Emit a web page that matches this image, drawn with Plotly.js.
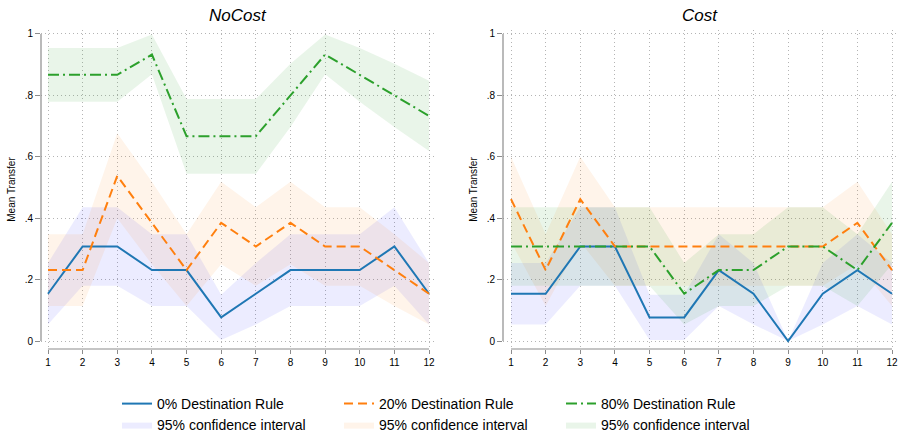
<!DOCTYPE html>
<html>
<head>
<meta charset="utf-8">
<script src="https://cdn.plot.ly/plotly-3.0.1.min.js"></script>
<style>html,body{margin:0;padding:0;background:#fff;}#chart{width:900px;height:434px;}</style>
</head>
<body>
<div id="chart"></div>
<script>
// ---- data ----
const periods = [1,2,3,4,5,6,7,8,9,10,11,12];
const panelTitles = ["NoCost", "Cost"];
const seriesNames = ["0% Destination Rule", "20% Destination Rule", "80% Destination Rule"];
const ciName = "95% confidence interval";
const yTickVals = [0, 0.2, 0.4, 0.6, 0.8, 1];
const yTickText = ["0", ".2", ".4", ".6", ".8", "1"];

// NoCost
const nc0    = [.154,.308,.308,.231,.231,.077,.154,.231,.231,.231,.308,.154];
const nc0Lo  = [.054,.180,.180,.114,.114,.003,.054,.114,.114,.114,.180,.054];
const nc0Hi  = [.254,.436,.436,.348,.348,.151,.254,.348,.348,.348,.436,.254];
const nc20   = [.231,.231,.538,.385,.231,.385,.308,.385,.308,.308,.231,.154];
const nc20Lo = [.114,.114,.400,.250,.114,.250,.180,.250,.180,.180,.114,.054];
const nc20Hi = [.348,.348,.677,.519,.348,.519,.436,.519,.436,.436,.348,.254];
const nc80   = [.867,.867,.867,.933,.667,.667,.667,.800,.933,.867,.800,.733];
const nc80Lo = [.779,.779,.779,.869,.545,.545,.545,.697,.869,.779,.697,.619];
const nc80Hi = [.954,.954,.954,.998,.788,.788,.788,.903,.998,.954,.903,.848];

// Cost
const c0    = [.154,.154,.308,.308,.077,.077,.231,.154,0,.154,.231,.154];
const c0Lo  = [.054,.054,.180,.180,.003,.003,.114,.054,0,.054,.114,.054];
const c0Hi  = [.254,.254,.436,.436,.151,.151,.348,.254,0,.254,.348,.254];
const c20   = [.462,.231,.462,.308,.308,.308,.308,.308,.308,.308,.385,.231];
const c20Lo = [.323,.114,.323,.180,.180,.180,.180,.180,.180,.180,.250,.114];
const c20Hi = [.600,.348,.600,.436,.436,.436,.436,.436,.436,.436,.519,.348];
const c80   = [.308,.308,.308,.308,.308,.154,.231,.231,.308,.308,.231,.385];
const c80Lo = [.180,.180,.180,.180,.180,.054,.114,.114,.180,.180,.114,.250];
const c80Hi = [.436,.436,.436,.436,.436,.254,.348,.348,.436,.436,.348,.519];

// ---- styles ----
const lineColors = ["#1f77b4", "#ff7f0e", "#2ca02c"];
const bandColors = ["rgba(0,0,255,0.075)", "rgba(255,127,14,0.085)", "rgba(44,160,44,0.10)"];
const dashes = ["solid", "9px,5px", "11px,4px,2px,4px"];
const FONT = "Liberation Sans, Arial, Helvetica, sans-serif";

const panels = [
  {xa: "x", ya: "y", means: [nc0, nc20, nc80], lo: [nc0Lo, nc20Lo, nc80Lo], hi: [nc0Hi, nc20Hi, nc80Hi]},
  {xa: "x2", ya: "y2", means: [c0, c20, c80], lo: [c0Lo, c20Lo, c80Lo], hi: [c0Hi, c20Hi, c80Hi]}
];

const traces = [];
panels.forEach((p, pi) => {
  for (let s = 0; s < 3; s++) {
    traces.push({
      type: "scatter", mode: "lines",
      x: periods.concat(periods.slice().reverse()),
      y: p.hi[s].concat(p.lo[s].slice().reverse()),
      fill: "toself", fillcolor: bandColors[s],
      line: {width: 0, color: bandColors[s]},
      name: ciName, legend: "legend2",
      showlegend: pi === 0, hoverinfo: "skip",
      xaxis: p.xa, yaxis: p.ya
    });
  }
});
panels.forEach((p, pi) => {
  for (let s = 0; s < 3; s++) {
    traces.push({
      type: "scatter", mode: "lines",
      x: periods, y: p.means[s],
      line: {color: lineColors[s], width: 2, dash: dashes[s]},
      name: seriesNames[s], legend: "legend",
      showlegend: pi === 0,
      xaxis: p.xa, yaxis: p.ya
    });
  }
});

const axisGrey = "#8c8c8c";
const gridStyle = {showgrid: true, gridcolor: "#b4b4b4", griddash: "1px,3px", gridwidth: 1};
function xAxis(domain, range, anchor) {
  return Object.assign({
    domain: domain, range: range, anchor: anchor, tickvals: periods, ticks: "outside", ticklen: 4,
    tickcolor: axisGrey, tickwidth: 1, showline: false, zeroline: false,
    tickfont: {size: 10, color: "#000", family: FONT}, fixedrange: true
  }, gridStyle);
}
function yAxis(anchor) {
  return Object.assign({
    domain: [0.19585, 0.93088], range: [-0.026, 1.013], anchor: anchor,
    tickvals: yTickVals, ticktext: yTickText, ticks: "outside", ticklen: 5,
    tickcolor: axisGrey, tickwidth: 1, showline: false, zeroline: false,
    tickfont: {size: 10, color: "#000", family: FONT},
    title: {text: "Mean Transfer", font: {size: 10, color: "#000", family: FONT}, standoff: 7},
    fixedrange: true
  }, gridStyle);
}

const shapes = [];
[["x","y"],["x2","y2"]].forEach(([xa, ya]) => {
  shapes.push({type: "line", xref: xa + " domain", yref: ya, x0: 0, x1: 0, y0: 0, y1: 1,
               line: {color: axisGrey, width: 1.2}, layer: "above"});
  shapes.push({type: "line", xref: xa, yref: ya + " domain", x0: periods[0], x1: periods[periods.length-1], y0: 0, y1: 0,
               line: {color: axisGrey, width: 1.2}, layer: "above"});
});

const annotations = panelTitles.map((t, i) => ({
  text: t, xref: (i === 0 ? "x" : "x2") + " domain", x: 0.5, yref: "paper", y: 1 - 15/434,
  xanchor: "center", yanchor: "middle", showarrow: false,
  font: {size: 17, color: "#000", family: FONT, style: "italic"}
}));

const legendCommon = {
  orientation: "h", xanchor: "left", yanchor: "middle", x: 117/900,
  font: {size: 14, color: "#000", family: FONT}, entrywidth: 177, itemwidth: 30,
  bgcolor: "rgba(0,0,0,0)", borderwidth: 0, itemclick: false, itemdoubleclick: false
};

const layout = {
  width: 900, height: 434,
  margin: {l: 0, r: 0, t: 0, b: 0, autoexpand: false},
  paper_bgcolor: "#fff", plot_bgcolor: "#fff",
  font: {family: FONT, color: "#000"},
  xaxis: xAxis([41/900, 435/900], [0.798, 12.173], "y"),
  yaxis: yAxis("x"),
  xaxis2: xAxis([503/900, 897/900], [0.769, 12.144], "y2"),
  yaxis2: yAxis("x2"),
  shapes: shapes, annotations: annotations,
  showlegend: true,
  legend: Object.assign({}, legendCommon, {y: (434-404)/434}),
  legend2: Object.assign({}, legendCommon, {y: (434-425)/434}),
  hovermode: false
};

Plotly.newPlot("chart", traces, layout, {displayModeBar: false, staticPlot: true});
</script>
</body>
</html>
